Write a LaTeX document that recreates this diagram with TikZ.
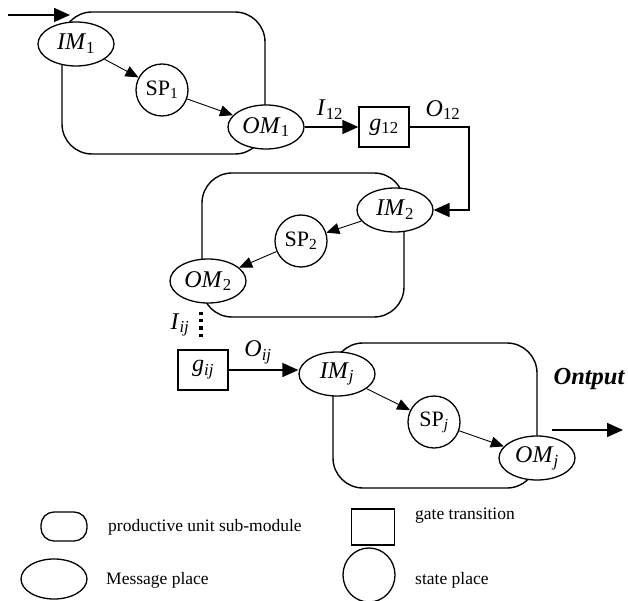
\documentclass[tikz,border=0pt]{standalone}
\usepackage{fontspec}
\setmainfont{Liberation Serif}
\usetikzlibrary{shapes.geometric,arrows.meta}
\begin{document}
\begin{tikzpicture}[x=1pt,y=-1pt,
  module/.style={draw,line width=1.4pt,rounded corners=30pt},
  msg/.style={draw,line width=1.3pt,ellipse,fill=white,minimum width=76pt,minimum height=44pt,inner sep=0pt,font=\fontsize{24}{26}\selectfont},
  st/.style={draw,line width=1.3pt,circle,fill=white,minimum size=52pt,inner sep=0pt,font=\fontsize{22}{26}\selectfont},
  gate/.style={draw,line width=1.3pt,rectangle,fill=white,minimum width=50pt,minimum height=40pt,inner sep=0pt,font=\fontsize{24}{26}\selectfont},
  lab/.style={font=\fontsize{24}{26}\selectfont,inner sep=0pt},
  leg/.style={font=\fontsize{17.5}{20}\selectfont,inner sep=0pt,anchor=west},
  inner/.style={line width=0.9pt,-{Triangle[length=13pt,width=11pt]}},
  outer/.style={line width=1.5pt,-{Triangle[length=16pt,width=14pt]}}]
\useasboundingbox (0,0) rectangle (628,601);
% modules
\draw[module] (62,12) rectangle (265,154);
\draw[module] (202,173) rectangle (404,317);
\draw[module] (333,343) rectangle (537,488);
% nodes
\node[msg] (im1) at (76,44) {\textit{IM}\textsubscript{1}};
\node[st] (sp1) at (162,90) {SP\textsubscript{1}};
\node[msg] (om1) at (266,127) {\textit{OM}\textsubscript{1}};
\node[gate] (g12) at (384,127) {\textit{g}\textsubscript{12}};
\node[msg] (im2) at (395,210) {\textit{IM}\textsubscript{2}};
\node[st] (sp2) at (301,241) {SP\textsubscript{2}};
\node[msg] (om2) at (208,281) {\textit{OM}\textsubscript{2}};
\node[gate] (gij) at (203,370) {\textit{g}\textsubscript{\textit{ij}}};
\node[msg] (imj) at (337,374) {\textit{IM}\textsubscript{\textit{j}}};
\node[st] (spj) at (434,422) {SP\textsubscript{\textit{j}}};
\node[msg] (omj) at (537,458) {\textit{OM}\textsubscript{\textit{j}}};
% labels
\node[lab] (i12) at (330,110) {\textit{I}\textsubscript{12}};
\node[lab] (o12) at (443,110) {\textit{O}\textsubscript{12}};
\node[lab] (iij) at (180,325) {\textit{I}\textsubscript{\textit{ij}}};
\node[lab] (oij) at (258,352) {\textit{O}\textsubscript{\textit{ij}}};
\node[lab,font=\fontsize{24.5}{26}\selectfont\bfseries\itshape] (outl) at (589,379) {Ontput};
% connectors
\coordinate (inA) at (8,15);
\coordinate (inB) at (70,15);
\draw[outer] (inA) -- (inB);
\draw[inner] (im1) -- (sp1);
\draw[inner] (sp1) -- (om1);
\draw[outer] (om1) -- (g12);
\coordinate (c1) at (469,127);
\coordinate (c2) at (469,210);
\draw[outer] (g12.east) -- (c1) -- (c2) -- (im2.east);
\draw[inner] (im2) -- (sp2);
\draw[inner] (sp2) -- (om2);
\coordinate (d1) at (201,312);
\coordinate (d2) at (201,338);
\draw[line width=3.5pt,dash pattern=on 3.2pt off 4pt] (d1) -- (d2);
\draw[outer] (gij.east) -- (gij.east -| imj.west);
\draw[inner] (imj) -- (spj);
\draw[inner] (spj) -- (omj);
\coordinate (oA) at (552,430);
\coordinate (oB) at (623,430);
\draw[outer] (oA) -- (oB);
% legend
\draw[line width=1.3pt,rounded corners=13pt] (41,512) rectangle (87,541);
\node[leg] (t1) at (108,527) {productive unit sub-module};
\node[draw,line width=1.3pt,minimum width=43pt,minimum height=36pt,inner sep=0pt] (lsq) at (373,527) {};
\node[leg] (t2) at (415,516) {gate transition};
\node[draw,line width=1.3pt,ellipse,minimum width=66pt,minimum height=40pt,inner sep=0pt] (lel) at (54,579) {};
\node[leg] (t3) at (106,580) {Message place};
\node[draw,line width=1.3pt,ellipse,minimum width=52pt,minimum height=54pt,inner sep=0pt] (lci) at (369,575) {};
\node[leg] (t4) at (415,580) {state place};
\end{tikzpicture}
\end{document}
